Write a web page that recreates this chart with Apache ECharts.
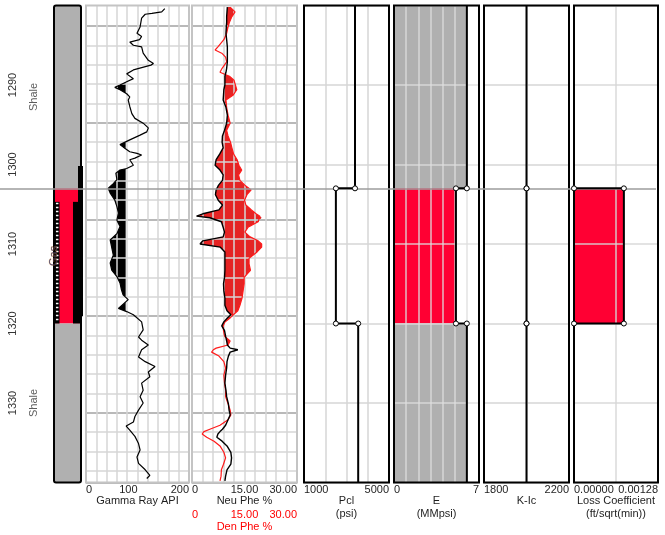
<!DOCTYPE html>
<html><head><meta charset="utf-8">
<script src="https://cdn.jsdelivr.net/npm/echarts@6/dist/echarts.min.js"></script>
<style>html,body{margin:0;padding:0;background:#fff}#c{width:665px;height:535px}</style>
</head><body><div id="c"></div><script>
// ---------------- DATA ----------------
const depthRange = [1280, 1340];
const depthStep = 10;
const gasTop = 1303, gasBottom = 1320;

const lithoTop = [1280, 1303, 1320];
const lithoBottom = [1303, 1320, 1340];
const lithoName = ['Shale', 'Gas', 'Shale'];
const completionInterval = [1304.7, 1320];
const perfInterval = [1300.2, 1319.1];

const grDepth = [1280.4,1280.8,1281.0,1281.1,1281.6,1282.7,1283.5,1283.9,1284.3,1284.6,
 1285.0,1285.2,1286.0,1286.2,1286.9,1287.3,1287.5,1288.1,1288.6,1289.2,
 1289.6,1290.0,1290.3,1290.6,1291.1,1291.5,1291.9,1292.7,1293.6,1294.2,
 1294.8,1295.4,1295.9,1296.3,1296.9,1297.5,1298.0,1298.4,1298.6,1298.8,
 1299.2,1299.4,1300.1,1300.5,1300.7,1301.1,1301.9,1302.4,1303.0,1303.6,
 1304.5,1305.3,1306.1,1307.0,1307.8,1308.7,1309.5,1311.4,1312.4,1313.3,
 1314.1,1314.9,1315.8,1316.4,1317.0,1318.1,1318.5,1318.9,1319.8,1320.8,
 1321.7,1322.1,1322.7,1323.3,1324.2,1324.8,1325.4,1326.1,1326.7,1327.5,
 1328.4,1329.2,1330.0,1330.9,1331.7,1332.4,1332.9,1333.4,1334.2,1335.1,
 1335.9,1336.8,1337.6,1338.4,1339.1,1339.5];
const grApi = [153,147,128,115,108,105,99,108,104,85,
 92,108,111,108,121,131,126,92,79,92,
 79,66,56,66,79,85,82,85,89,95,
 111,121,118,105,85,66,76,85,99,108,
 95,85,92,79,66,58,60,53,43,47,
 56,60,63,60,66,60,47,53,47,50,
 60,66,69,72,82,63,79,92,108,111,
 102,108,121,108,102,115,134,121,124,108,
 111,105,111,102,95,92,78,85,95,102,
 105,99,102,115,124,118];
const grCutoff = 77;
const grTicks = [0, 100, 200];

const phiDepth = [1280.2,1280.8,1281.4,1282.1,1282.7,1283.5,1284.3,1285.2,1285.6,1286.0,
 1286.5,1287.1,1287.9,1288.4,1288.9,1289.4,1290.0,1290.6,1291.3,1291.9,
 1292.8,1293.8,1294.8,1295.7,1296.4,1297.2,1297.9,1298.7,1299.4,1300.1,
 1300.7,1301.3,1302.0,1302.6,1303.2,1303.8,1304.5,1305.1,1305.7,1306.2,
 1306.5,1306.7,1307.2,1307.9,1308.5,1309.1,1309.6,1310.0,1310.4,1311.0,
 1311.8,1312.5,1313.3,1314.2,1315.0,1315.9,1316.8,1317.7,1318.4,1318.9,
 1319.3,1319.8,1320.3,1320.9,1321.6,1322.2,1322.7,1323.1,1323.3,1323.6,
 1324.1,1324.8,1325.6,1326.5,1327.5,1328.4,1329.2,1330.1,1330.9,1331.5,
 1332.1,1332.8,1333.3,1333.6,1333.9,1334.3,1334.8,1335.4,1336.2,1336.9,
 1337.7,1338.4,1339.2,1339.8];
const neuPhi = [10.1,10.0,9.9,9.9,9.8,9.7,9.9,10.1,10.1,10.1,
 10.1,10.1,9.9,9.7,9.4,9.4,9.4,9.1,9.0,8.9,
 9.7,10.1,9.9,9.3,8.7,8.6,8.9,7.9,6.9,6.6,
 8.0,8.9,8.7,7.6,6.9,6.7,7.5,8.7,7.7,3.1,
 1.3,5.1,8.4,8.9,9.3,8.9,3.1,2.3,8.1,9.4,
 9.4,9.4,9.4,9.3,9.0,9.1,9.4,9.4,10.0,11.1,
 10.1,9.1,8.5,9.3,9.6,9.9,10.1,10.9,13.1,10.9,
 10.4,10.0,9.9,9.6,9.4,9.7,9.9,10.4,10.6,10.9,
 10.3,9.6,8.7,8.0,7.4,7.1,8.6,10.0,11.1,11.3,
 11.1,10.0,9.6,9.4];
const denPhi = [10.9,12.3,11.4,10.7,10.3,9.9,9.1,7.4,6.6,8.5,
 9.6,9.9,8.6,8.0,10.7,12.0,12.4,12.8,11.7,9.7,
 9.9,10.3,10.9,9.9,10.3,11.0,11.4,11.9,12.9,13.4,
 14.2,13.3,13.7,15.1,16.9,15.7,15.0,15.4,16.9,18.3,
 19.4,19.9,18.9,16.0,15.1,16.6,18.9,19.9,19.9,18.6,
 16.3,16.3,16.7,14.9,14.9,14.6,14.3,13.7,13.1,11.8,
 10.9,9.4,8.9,9.0,9.3,10.9,10.3,6.9,6.1,5.6,
 7.7,9.1,9.6,9.1,9.3,9.6,9.6,10.3,10.9,11.1,
 10.3,8.0,5.1,3.4,2.9,4.2,6.3,8.0,9.1,9.6,
 9.0,8.4,8.3,8.0];

const stepDepth = [1280, 1303, 1303, 1320, 1320, 1340];
const pclPsi = [3400, 3400, 2500, 2500, 3550, 3550];
const eMMpsi = [6.0, 6.0, 5.1, 5.1, 6.0, 6.0];
const kIc = [2000, 2000, 2000, 2000, 2000, 2000];
const lossCoef = [0, 0, 0.00076, 0.00076, 0, 0];

// ---------------- LAYOUT / STYLE ----------------
const FONT = '"Liberation Sans", Arial, sans-serif';
const FS = 11;
const RED = '#ff0033', GRAY = '#b0b0b0', GRIDC = '#d6d6d6', TXT = '#1e1e1e';
const TOP = 5.5, H = 477;
const grids = [], xAxes = [], yAxes = [], series = [];
function addGrid(g) { grids.push(Object.assign({top: TOP, height: H, show: false, containLabel: false, outerBoundsMode: 'none'}, g)); return grids.length - 1; }
function addX(a) { xAxes.push(Object.assign({type: 'value', position: 'bottom', nameMoveOverlap: false, axisLine: {show: false}, axisTick: {show: false}, axisLabel: {show: false}, splitLine: {show: false}}, a)); return xAxes.length - 1; }
function addY(a) { yAxes.push(Object.assign({type: 'value', min: depthRange[0], max: depthRange[1], interval: depthStep, inverse: true, axisLine: {show: false}, axisTick: {show: false}, axisLabel: {show: false}, splitLine: {show: false}}, a)); return yAxes.length - 1; }
const nameStyle = (c) => ({fontSize: FS, fontFamily: FONT, color: c, lineHeight: 13, verticalAlign: 'top'});
const labelStyle = (c, extra) => Object.assign({show: true, margin: 2, fontSize: FS, fontFamily: FONT, color: c, alignMinLabel: 'left', alignMaxLabel: 'right', showMinLabel: true, showMaxLabel: true, hideOverlap: false}, extra || {});

// lithology column
const gLitho = addGrid({left: 54, width: 29});
const xLitho = addX({gridIndex: gLitho, min: 0, max: 29});
const yLitho = addY({gridIndex: gLitho, axisLabel: {show: true, rotate: 90, margin: 36, fontSize: FS, fontFamily: FONT, color: '#333', showMinLabel: false, showMaxLabel: false, formatter: v => String(v)}});

// tracks
function makeTrack(def) {
  const gi = addGrid({left: def.left, width: def.width, show: true, borderColor: def.border, borderWidth: 2, z: 4});
  const yi = addY({gridIndex: gi, z: 2, splitLine: def.depthGrid ? {show: true, lineStyle: {color: def.hColor || GRIDC, width: 1.5}} : {show: false}});
  const xg = addX({gridIndex: gi, min: def.range[0], max: def.range[1], interval: def.gridStep, z: 2,
    splitLine: {show: true, lineStyle: {color: def.vColor || GRIDC, width: 1.5}}});
  const xl = addX({gridIndex: gi, min: def.range[0], max: def.range[1], interval: def.labelStep,
    axisLabel: labelStyle(TXT, {formatter: def.fmt}),
    name: def.name, nameLocation: 'middle', nameGap: 12, nameTextStyle: nameStyle(TXT)});
  return {gi, yi, xg, xl};
}
const tGR = makeTrack({left: 86, width: 103, range: [grTicks[0], grTicks[2]], gridStep: 20, labelStep: grTicks[2] - grTicks[0], name: 'Gamma Ray API', fmt: v => String(v), border: '#c4c4c4'});
// middle GR label (right-aligned at the track centre)
addX({gridIndex: tGR.gi, min: grTicks[0], max: grTicks[2], interval: grTicks[1] - grTicks[0],
  axisLabel: labelStyle(TXT, {align: 'right', alignMinLabel: 'right', alignMaxLabel: 'right', formatter: v => v === grTicks[1] ? String(v) : ''})});
const tPhi = makeTrack({left: 192, width: 105, range: [0, 30], gridStep: 3, labelStep: 15, name: 'Neu Phe %', fmt: v => v === 0 ? '0' : v.toFixed(2), border: '#c4c4c4'});
const xDen = addX({gridIndex: tPhi.gi, min: 0, max: 30, interval: 15, offset: 25,
  axisLabel: labelStyle('#ff0000', {formatter: v => v === 0 ? '0' : v.toFixed(2)}),
  name: 'Den Phe %', nameLocation: 'middle', nameGap: 13, nameTextStyle: nameStyle('#ff0000')});
const tPcl = makeTrack({left: 304, width: 85, range: [1000, 5000], gridStep: 1000, labelStep: 4000, name: 'Pcl\n(psi)', fmt: v => String(v), border: '#000', depthGrid: true});
const tE = makeTrack({left: 394, width: 85, range: [0, 7], gridStep: 1, labelStep: 7, name: 'E\n(MMpsi)', fmt: v => String(v), border: '#000', depthGrid: true, vColor: 'rgba(222,222,222,0.85)', hColor: 'rgba(222,222,222,0.85)'});
const tK = makeTrack({left: 484, width: 85, range: [1800, 2200], gridStep: 200, labelStep: 400, name: 'K-Ic', fmt: v => String(v), border: '#000', depthGrid: true});
const tLoss = makeTrack({left: 574, width: 84, range: [0, 0.00128], gridStep: 0.00064, labelStep: 0.00128, name: 'Loss Coefficient\n(ft/sqrt(min))', fmt: v => v.toFixed(5), border: '#000', depthGrid: true, vColor: 'rgba(214,214,214,0.9)', hColor: 'rgba(214,214,214,0.9)'});

// fixed log grid (GR / porosity tracks)
const logGridUnits = 456.5 / 19.33;
function makeLogGrid(left, width) {
  const gi = addGrid({left: left, width: width, top: 26, height: 456.5});
  addX({gridIndex: gi, min: 0, max: 1});
  addY({gridIndex: gi, min: 0, max: logGridUnits, interval: 1, z: 2, splitLine: {show: true, lineStyle: {color: GRIDC, width: 1.5}}});
  addY({gridIndex: gi, min: 0, max: logGridUnits, interval: 5, z: 2, splitLine: {show: true, lineStyle: {color: '#b9b9b9', width: 2}}});
}
makeLogGrid(86, 103);
makeLogGrid(192, 105);

// overlay grid for the depth marker line
const gLine = addGrid({left: 0, width: 656});
const xLine = addX({gridIndex: gLine, min: 0, max: 1});
const yLine = addY({gridIndex: gLine});
// zone label grid
const gZone = addGrid({left: 20, width: 40});
const xZone = addX({gridIndex: gZone, min: 0, max: 1});
const yZone = addY({gridIndex: gZone});

// ---------------- SERIES ----------------
series.push({type: 'custom', xAxisIndex: xLitho, yAxisIndex: yLitho, z: 1, silent: true,
  data: lithoTop.map((t, i) => [i, t, lithoBottom[i]]), encode: {x: 0, y: [1, 2]},
  renderItem: (p, api) => {
    const a = api.coord([0, api.value(1)]), b = api.coord([0, api.value(2)]);
    return {type: 'rect', shape: {x: a[0], y: a[1], width: 27, height: b[1] - a[1]}, style: {fill: lithoName[api.value(0)] === 'Gas' ? RED : GRAY}};
  }});
series.push({type: 'custom', xAxisIndex: xLitho, yAxisIndex: yLitho, z: 2, silent: true,
  data: [[0, completionInterval[0], completionInterval[1]]], encode: {x: 0, y: [1, 2]},
  renderItem: (p, api) => {
    const a = api.coord([0, api.value(1)]), b = api.coord([0, api.value(2)]), h = b[1] - a[1];
    return {type: 'group', children: [
      {type: 'rect', shape: {x: a[0] + 1, y: a[1], width: 4.5, height: h}, style: {fill: '#000'}},
      {type: 'line', shape: {x1: a[0] + 3.2, y1: a[1] + 1, x2: a[0] + 3.2, y2: b[1] - 1}, style: {stroke: '#fff', lineWidth: 2.5, lineDash: [1.5, 2.5]}},
      {type: 'rect', shape: {x: a[0] + 19, y: a[1], width: 7, height: h}, style: {fill: '#000'}}
    ]};
  }});
series.push({type: 'custom', xAxisIndex: xLitho, yAxisIndex: yLitho, z: 3, silent: true,
  data: [[0, depthRange[0], depthRange[1]]], encode: {x: 0, y: [1, 2]},
  renderItem: (p, api) => {
    const a = api.coord([0, api.value(1)]), b = api.coord([0, api.value(2)]);
    return {type: 'rect', shape: {x: a[0], y: a[1], width: 27, height: b[1] - a[1], r: 2}, style: {fill: 'none', stroke: '#000', lineWidth: 2}};
  }});
series.push({type: 'custom', xAxisIndex: xLitho, yAxisIndex: yLitho, z: 4, silent: true, clip: false,
  data: [[0, perfInterval[0], perfInterval[1]]], encode: {x: 0, y: [1, 2]},
  renderItem: (p, api) => {
    const a = api.coord([0, api.value(1)]), b = api.coord([0, api.value(2)]);
    return {type: 'rect', shape: {x: a[0] + 24, y: a[1], width: 5, height: b[1] - a[1]}, style: {fill: '#000'}};
  }});

// zone labels
series.push({type: 'scatter', xAxisIndex: xZone, yAxisIndex: yZone, symbolSize: 0, silent: true, z: 6,
  data: lithoTop.map((t, i) => {
    const gas = lithoName[i] === 'Gas';
    return {name: lithoName[i], value: [gas ? 0.85 : 0.34, (t + lithoBottom[i]) / 2],
      label: gas ? {color: '#26285a', textBorderColor: 'rgba(255,150,40,0.6)', textBorderWidth: 0.6} : {}};
  }),
  label: {show: true, position: 'inside', formatter: '{b}', rotate: 90, fontSize: FS, fontFamily: FONT, color: '#333'}});

// depth marker line
series.push({type: 'line', xAxisIndex: xLine, yAxisIndex: yLine, data: [[0.5, gasTop]], showSymbol: false, lineStyle: {opacity: 0}, z: 10, silent: true,
  markLine: {silent: true, symbol: ['none', 'none'], label: {show: false}, lineStyle: {color: '#9c9c9c', width: 1.5, type: 'solid'}, data: [{yAxis: gasTop}], animation: false}});

// helper polygons
function cutoffPolys(vals, deps, cut) {
  const polys = []; let cur = null;
  for (let i = 0; i < vals.length; i++) {
    const v = vals[i], d = deps[i], inside = v < cut;
    if (i > 0) {
      const pv = vals[i - 1], pd = deps[i - 1], pin = pv < cut;
      if (pin !== inside) {
        const cd = pd + (cut - pv) / (v - pv) * (d - pd);
        if (inside) cur = [[cut, cd]]; else { cur.push([cut, cd]); polys.push(cur); cur = null; }
      }
    } else if (inside) cur = [[cut, d]];
    if (inside) cur.push([v, d]);
  }
  if (cur) { cur.push([cut, deps[deps.length - 1]]); polys.push(cur); }
  return polys;
}
function crossPolys(deps, a, b) { // fill where b > a
  const polys = []; let seg = null;
  for (let i = 0; i < deps.length; i++) {
    const diff = b[i] - a[i], inside = diff > 0;
    if (i > 0) {
      const pdiff = b[i - 1] - a[i - 1], pin = pdiff > 0;
      if (pin !== inside) {
        const t = pdiff / (pdiff - diff);
        const cd = deps[i - 1] + t * (deps[i] - deps[i - 1]);
        const cv = a[i - 1] + t * (a[i] - a[i - 1]);
        if (inside) seg = [[cd, cv, cv]]; else { seg.push([cd, cv, cv]); polys.push(seg); seg = null; }
      }
    }
    if (inside) { if (!seg) seg = []; seg.push([deps[i], a[i], b[i]]); }
  }
  if (seg) polys.push(seg);
  return polys.map(s => s.map(p => [p[2], p[0]]).concat(s.slice().reverse().map(p => [p[1], p[0]])));
}
function polySeries(xi, yi, polys, color, z) {
  return {type: 'custom', xAxisIndex: xi, yAxisIndex: yi, z: z, silent: true, clip: true,
    data: [[0, depthRange[0]]],
    renderItem: (p, api) => ({type: 'group', children: polys.map(poly => ({type: 'polygon', shape: {points: poly.map(pt => api.coord(pt))}, style: {fill: color}}))})};
}

// GR
series.push(polySeries(tGR.xg, tGR.yi, cutoffPolys(grApi, grDepth, grCutoff), '#000', 1));
series.push({type: 'line', xAxisIndex: tGR.xg, yAxisIndex: tGR.yi, z: 3, silent: true, showSymbol: false,
  data: grDepth.map((d, i) => [grApi[i], d]), lineStyle: {color: '#000', width: 1.2}});
// Porosity
series.push(polySeries(tPhi.xg, tPhi.yi, crossPolys(phiDepth, neuPhi, denPhi), '#e52424', 1));
series.push({type: 'line', xAxisIndex: xDen, yAxisIndex: tPhi.yi, z: 3, silent: true, showSymbol: false,
  data: phiDepth.map((d, i) => [denPhi[i], d]), lineStyle: {color: '#ff1a1a', width: 1.2}});
series.push({type: 'line', xAxisIndex: tPhi.xg, yAxisIndex: tPhi.yi, z: 3, silent: true, showSymbol: false,
  data: phiDepth.map((d, i) => [neuPhi[i], d]), lineStyle: {color: '#000', width: 1.4}});

// step tracks
function stepFill(track, vals, outsideColor) {
  const data = [];
  for (let i = 0; i < stepDepth.length; i += 2) data.push([vals[i], stepDepth[i], stepDepth[i + 1]]);
  series.push({type: 'custom', xAxisIndex: track.xg, yAxisIndex: track.yi, z: 1, silent: true, encode: {x: 0, y: [1, 2]}, data: data,
    renderItem: (p, api) => {
      const t = api.value(1), bt = api.value(2);
      const a = api.coord([0, t]), b = api.coord([api.value(0), bt]);
      const gas = t >= gasTop && bt <= gasBottom;
      const fill = gas ? RED : outsideColor;
      if (!fill) return null;
      return {type: 'rect', shape: {x: a[0], y: a[1], width: b[0] - a[0], height: b[1] - a[1]}, style: {fill: fill}};
    }});
}
function stepLine(track, vals) {
  series.push({type: 'line', xAxisIndex: track.xg, yAxisIndex: track.yi, z: 5, silent: true,
    data: stepDepth.map((d, i) => ({value: [vals[i], d], symbol: (i === 0 || i === stepDepth.length - 1) ? 'none' : 'circle'})),
    showSymbol: true, showAllSymbol: true, symbolSize: 5,
    itemStyle: {color: '#fff', borderColor: '#000', borderWidth: 1},
    lineStyle: {color: '#000', width: 2}});
}
stepLine(tPcl, pclPsi);
stepFill(tE, eMMpsi, GRAY); stepLine(tE, eMMpsi);
stepLine(tK, kIc);
stepFill(tLoss, lossCoef, null); stepLine(tLoss, lossCoef);

const chart = echarts.init(document.getElementById('c'), null, {renderer: 'canvas'});
chart.setOption({animation: false, backgroundColor: '#fff', textStyle: {fontFamily: FONT}, grid: grids, xAxis: xAxes, yAxis: yAxes, series: series});
</script></body></html>
